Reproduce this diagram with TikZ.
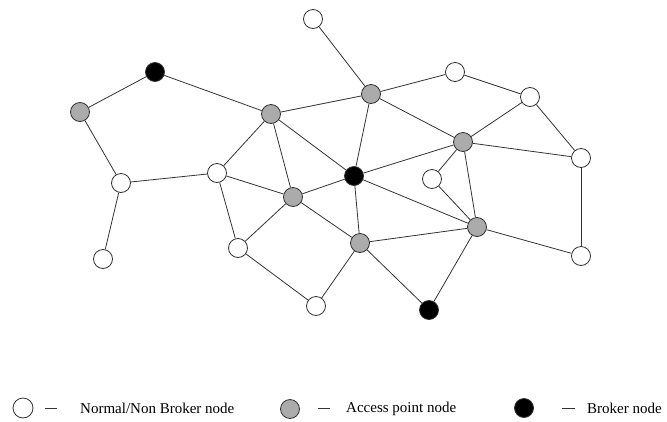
\documentclass[tikz,border=0pt]{standalone}
\usepackage{fontspec}
\setmainfont{Liberation Serif}
\begin{document}
\begin{tikzpicture}[x=1pt,y=-1pt,
  base/.style={circle,draw=black!80,line width=0.8pt,minimum size=19pt,inner sep=0pt},
  wn/.style={base,fill=white},
  gn/.style={base,fill=black!33},
  bn/.style={base,fill=black},
  edge/.style={draw=black!80,line width=0.8pt},
  lbl/.style={font=\fontsize{15}{17}\selectfont,anchor=west,inner sep=0pt}]
\useasboundingbox (0,0) rectangle (667,421);
% nodes
\node[wn] (t1) at (313,19) {};
\node[bn] (b1) at (155,72) {};
\node[gn] (g1) at (80,112) {};
\node[gn] (g2) at (271,114) {};
\node[gn] (g3) at (371,94) {};
\node[wn] (w2) at (455,72) {};
\node[wn] (w3) at (530,97) {};
\node[gn] (g4) at (463,142) {};
\node[wn] (w4) at (581,158) {};
\node[bn] (B2) at (354,176) {};
\node[wn] (w5) at (432,179) {};
\node[wn] (w6) at (121,183) {};
\node[wn] (w7) at (217,173) {};
\node[gn] (g5) at (293,197) {};
\node[gn] (g6) at (477,227) {};
\node[gn] (g7) at (360,243) {};
\node[wn] (w8) at (238,248) {};
\node[wn] (w9) at (103,259) {};
\node[wn] (w10) at (581,256) {};
\node[wn] (w11) at (316,306) {};
\node[bn] (B3) at (429,310) {};
% edges
\foreach \a/\b in {t1/g3,b1/g1,b1/g2,g1/w6,w6/w7,w6/w9,g2/g3,g2/w7,g2/g5,g2/B2,
  g3/w2,g3/B2,g3/g4,w2/w3,w3/g4,w3/w4,g4/w4,g4/B2,g4/w5,g4/g6,w4/w10,
  B2/g5,B2/g7,B2/g6,w5/g6,w7/g5,w7/w8,g5/w8,g5/g7,g7/g6,g7/w11,g7/B3,
  w8/w11,g6/B3,g6/w10}
  \draw[edge] (\a) -- (\b);
% legend
\node[wn,minimum width=19pt,minimum height=20pt] (lw) at (23,408) {};
\node[gn,minimum size=19pt] (lg) at (290,409) {};
\node[bn,minimum size=19pt] (lb) at (524,408) {};
\coordinate (dw1) at (45,408); \coordinate (dw2) at (57,408);
\coordinate (dg1) at (318,408); \coordinate (dg2) at (330,408);
\coordinate (db1) at (562,408); \coordinate (db2) at (575,408);
\draw[edge] (dw1) -- (dw2);
\draw[edge] (dg1) -- (dg2);
\draw[edge] (db1) -- (db2);
\node[lbl] (tw) at (80,408) {Normal/Non Broker node};
\node[lbl] (tg) at (346,409) {Access point node};
\node[lbl] (tb) at (587,408) {Broker node};
\end{tikzpicture}
\end{document}
